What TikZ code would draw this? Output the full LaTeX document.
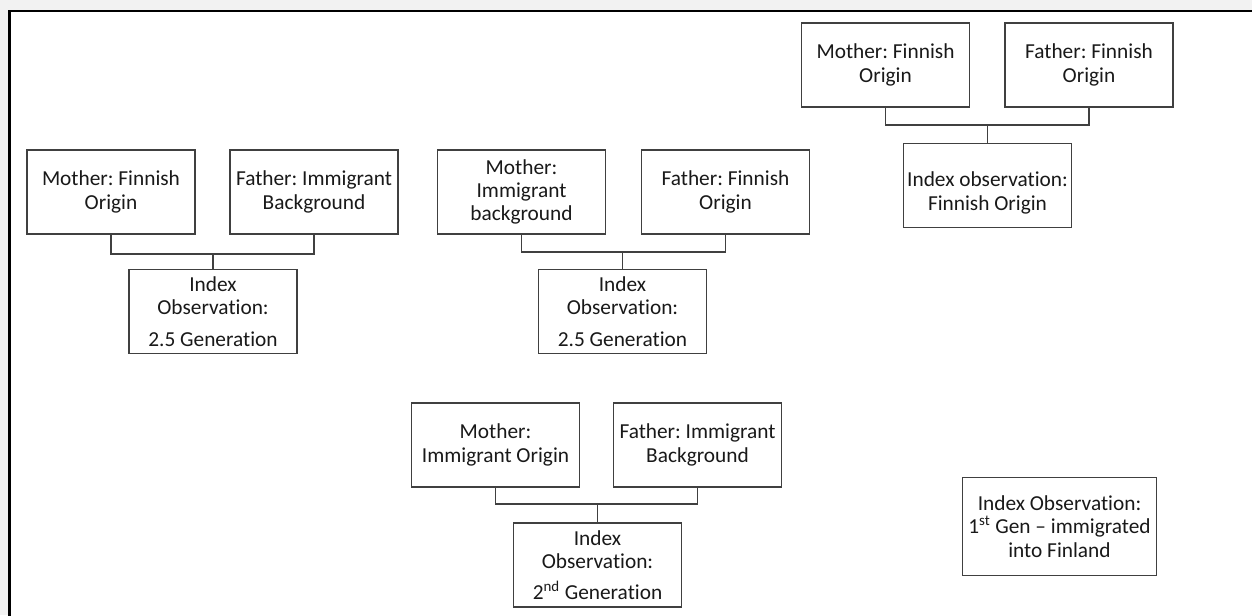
\documentclass[tikz,border=0pt]{standalone}
\usepackage{fontspec}
\setmainfont{Carlito}[Ligatures=NoCommon]
\definecolor{edge}{HTML}{404040}
\definecolor{pane}{HTML}{F2F2F2}
\frenchspacing
\begin{document}
\begin{tikzpicture}[x=0.75pt,y=-0.75pt,font=\fontsize{16}{17.5}\selectfont,
  person/.style={draw=edge,line width=0.8pt,minimum width=\WIDTH,minimum height=\HEIGHT,align=center,inner sep=1pt,text=black!90},
  link/.style={draw=edge,line width=0.9pt}]

\def\HEIGHT{63pt}
\def\WIDTH{126pt}

% page and frame
\useasboundingbox (0,0) rectangle (1252,615);
\fill[pane] (0,0) rectangle (1252,615);
\fill[white] (9.5,11) rectangle (1260,620);
\draw[black,line width=1.6pt] (9.5,620) -- (9.5,11) -- (1260,11);

% mixed, mother Finnish
\node at (111,192) [person] (m1) {Mother: Finnish\\Origin};
\node at (314,192) [person] (f1) {Father: Immigrant\\Background};
\node at (213,311.5) [person] (i1) {Index\\Observation:\\[6pt]2.5 Generation};
\coordinate (j1) at (213,254);

% mixed, mother immigrant
\node at (521.5,192) [person] (m2) {Mother:\\Immigrant\\background};
\node at (725.5,192) [person] (f2) {Father: Finnish\\Origin};
\node at (622.5,311.5) [person] (i2) {Index\\Observation:\\[6pt]2.5 Generation};
\coordinate (j2) at (622.5,252);

% both Finnish
\node at (885.5,65) [person] (m3) {Mother: Finnish\\Origin};
\node at (1089,65) [person] (f3) {Father: Finnish\\Origin};
\node at (987.5,185.5) [person] (i3) {\rule{0pt}{22pt}Index observation:\\Finnish Origin};
\coordinate (j3) at (987.5,125);

% both immigrant
\node at (495.5,445) [person] (m4) {Mother:\\Immigrant Origin};
\node at (697.5,445) [person] (f4) {Father: Immigrant\\Background};
\node at (597.5,565) [person] (i4) {Index\\Observation:\\[6pt]2\textsuperscript{nd} Generation};
\coordinate (j4) at (597.5,504);

% first generation
\node at (1059.5,526.5) [person,minimum width=145pt,minimum height=73pt] (i5) {Index Observation:\\1\textsuperscript{st} Gen -- immigrated\\into Finland};

% connectors
\draw[link] (m1.south) |- (j1) -| (f1.south);
\draw[link] (j1) -- (i1.north);
\draw[link] (m2.south) |- (j2) -| (f2.south);
\draw[link] (j2) -- (i2.north);
\draw[link] (m3.south) |- (j3) -| (f3.south);
\draw[link] (j3) -- (i3.north);
\draw[link] (m4.south) |- (j4) -| (f4.south);
\draw[link] (j4) -- (i4.north);

\end{tikzpicture}
\end{document}
